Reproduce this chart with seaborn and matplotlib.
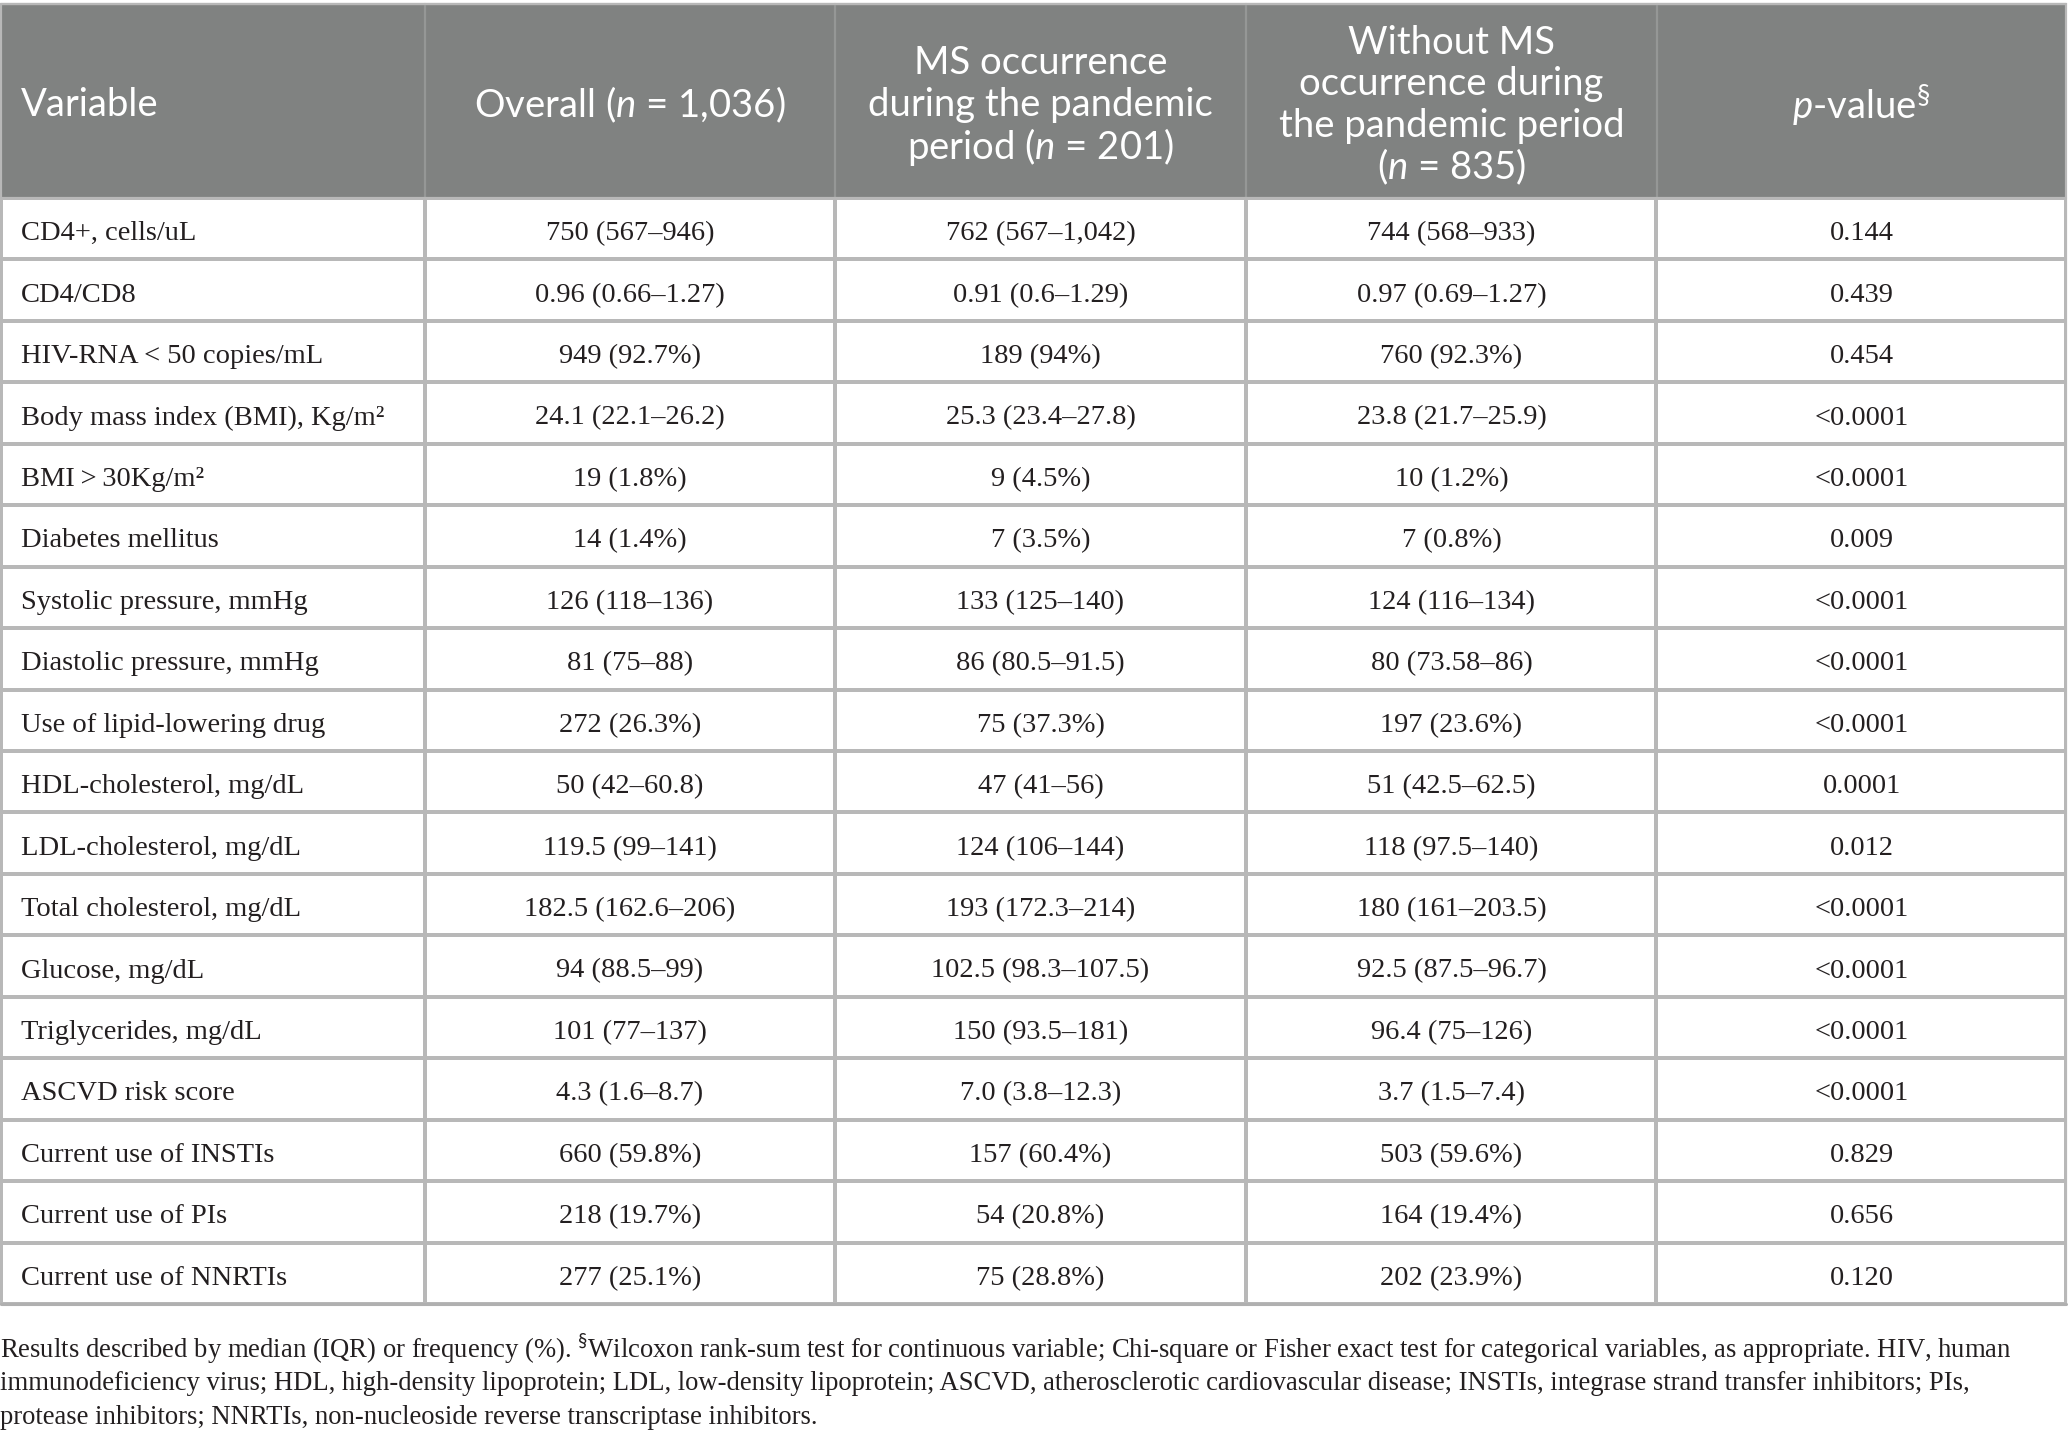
import matplotlib
matplotlib.use("Agg")
import matplotlib.pyplot as plt
from matplotlib.colors import ListedColormap
from matplotlib.patches import Rectangle
import numpy as np
import seaborn as sns

# ---------------- data ----------------
header_variable = "Variable"
header_overall = ["Overall ($n$ = 1,036)"]
header_ms = ["MS occurrence", "during the pandemic", "period ($n$ = 201)"]
header_without = ["Without MS", "occurrence during", "the pandemic period", "($n$ = 835)"]
header_p = ["$p$-value$^{\\S}$"]

variables = [
    "CD4+, cells/uL", "CD4/CD8", "HIV-RNA < 50 copies/mL",
    "Body mass index (BMI), Kg/m\u00b2", "BMI\u2009>\u200930Kg/m\u00b2", "Diabetes mellitus",
    "Systolic pressure, mmHg", "Diastolic pressure, mmHg", "Use of lipid-lowering drug",
    "HDL-cholesterol, mg/dL", "LDL-cholesterol, mg/dL", "Total cholesterol, mg/dL",
    "Glucose, mg/dL", "Triglycerides, mg/dL", "ASCVD risk score",
    "Current use of INSTIs", "Current use of PIs", "Current use of NNRTIs",
]
overall = [
    "750 (567\u2013946)", "0.96 (0.66\u20131.27)", "949 (92.7%)", "24.1 (22.1\u201326.2)",
    "19 (1.8%)", "14 (1.4%)", "126 (118\u2013136)", "81 (75\u201388)", "272 (26.3%)",
    "50 (42\u201360.8)", "119.5 (99\u2013141)", "182.5 (162.6\u2013206)", "94 (88.5\u201399)",
    "101 (77\u2013137)", "4.3 (1.6\u20138.7)", "660 (59.8%)", "218 (19.7%)", "277 (25.1%)",
]
ms_occ = [
    "762 (567\u20131,042)", "0.91 (0.6\u20131.29)", "189 (94%)", "25.3 (23.4\u201327.8)",
    "9 (4.5%)", "7 (3.5%)", "133 (125\u2013140)", "86 (80.5\u201391.5)", "75 (37.3%)",
    "47 (41\u201356)", "124 (106\u2013144)", "193 (172.3\u2013214)", "102.5 (98.3\u2013107.5)",
    "150 (93.5\u2013181)", "7.0 (3.8\u201312.3)", "157 (60.4%)", "54 (20.8%)", "75 (28.8%)",
]
without_ms = [
    "744 (568\u2013933)", "0.97 (0.69\u20131.27)", "760 (92.3%)", "23.8 (21.7\u201325.9)",
    "10 (1.2%)", "7 (0.8%)", "124 (116\u2013134)", "80 (73.58\u201386)", "197 (23.6%)",
    "51 (42.5\u201362.5)", "118 (97.5\u2013140)", "180 (161\u2013203.5)", "92.5 (87.5\u201396.7)",
    "96.4 (75\u2013126)", "3.7 (1.5\u20137.4)", "503 (59.6%)", "164 (19.4%)", "202 (23.9%)",
]
p_values = [
    "0.144", "0.439", "0.454", "<0.0001", "<0.0001", "0.009", "<0.0001", "<0.0001",
    "<0.0001", "0.0001", "0.012", "<0.0001", "<0.0001", "<0.0001", "<0.0001",
    "0.829", "0.656", "0.120",
]
footnote = [
    "Results described by median (IQR) or frequency (%). $^{\\S}$Wilcoxon rank-sum test for continuous variable; "
    "Chi-square or Fisher exact test for categorical variables, as appropriate. HIV, human",
    "immunodeficiency virus; HDL, high-density lipoprotein; LDL, low-density lipoprotein; ASCVD, atherosclerotic "
    "cardiovascular disease; INSTIs, integrase strand transfer inhibitors; PIs,",
    "protease inhibitors; NNRTIs, non-nucleoside reverse transcriptase inhibitors.",
]

# ---------------- style ----------------
sns.set_theme(style="white")
plt.rcParams["font.family"] = ["Liberation Serif", "DejaVu Sans"]
plt.rcParams["mathtext.fontset"] = "custom"
plt.rcParams["mathtext.rm"] = "Lato"
plt.rcParams["mathtext.it"] = "Lato:italic"

W, H = 2068, 1430
HEAD_BG = "#808281"
GRID = "#b8b8b8"
TXT = "#231f20"
SERIF = ["Liberation Serif", "DejaVu Serif"]
SANS = ["Lato", "DejaVu Sans"]
BODY_FS = 20.5
HEAD_FS = 27.5
FOOT_FS = 19.2

col_edges = [1, 425, 835, 1246, 1657, 2066]
top, head_bot, body_bot = 4, 198, 1304
n_rows = len(variables)
lw_px = 2.2
lw = lw_px * 0.72

fig = plt.figure(figsize=(W / 100, H / 100), dpi=100)

def fig_rect(x0, y0, x1, y1):
    return [x0 / W, 1 - y1 / H, (x1 - x0) / W, (y1 - y0) / H]

white = ListedColormap(["white"])

# first column grid (text drawn separately, left aligned)
ax0 = fig.add_axes(fig_rect(col_edges[0], head_bot, col_edges[1], body_bot))
sns.heatmap(np.zeros((n_rows, 1)), ax=ax0, cmap=white, cbar=False,
            linewidths=lw, linecolor=GRID, xticklabels=False, yticklabels=False)

# value columns grid (text drawn on overlay)
ax1 = fig.add_axes(fig_rect(col_edges[1], head_bot, col_edges[5], body_bot))
sns.heatmap(np.zeros((n_rows, 4)), ax=ax1, cmap=white, cbar=False,
            linewidths=lw, linecolor=GRID, xticklabels=False, yticklabels=False)

# overlay axes in pixel coordinates
ax = fig.add_axes([0, 0, 1, 1])
ax.set_xlim(0, W)
ax.set_ylim(H, 0)
ax.axis("off")
ax.patch.set_alpha(0)

# header
ax.add_patch(Rectangle((col_edges[0], top), col_edges[5] - col_edges[0], head_bot - top,
                       facecolor=HEAD_BG, edgecolor="none", zorder=1))
ax.plot([col_edges[0], col_edges[5]], [top, top], color="#c4c4c4", lw=lw, zorder=2)
for xe in col_edges[1:-1]:
    ax.plot([xe, xe], [top, head_bot], color="#959796", lw=lw, zorder=2)
ax.plot([col_edges[0], col_edges[5]], [head_bot, head_bot], color=GRID, lw=lw, zorder=2)

# outer border of body
ax.add_patch(Rectangle((col_edges[0], top), col_edges[5] - col_edges[0], body_bot - top,
                       facecolor="none", edgecolor=GRID, lw=lw, zorder=3))
ax.plot([col_edges[0], col_edges[5]], [body_bot, body_bot], color="#b0b0b0", lw=lw * 1.4, zorder=3)

head_mid = (top + head_bot) / 2 + 4
line_gap = 41.5
ax.text(21, head_mid, header_variable, ha="left", va="center", color="white",
        fontsize=HEAD_FS, family=SANS, zorder=4)
for ci, lines in enumerate([header_overall, header_ms, header_without, header_p], start=1):
    xc = (col_edges[ci] + col_edges[ci + 1]) / 2
    n = len(lines)
    for li, t in enumerate(lines):
        y = head_mid + (li - (n - 1) / 2) * line_gap
        ax.text(xc, y, t, ha="center", va="center", color="white",
                fontsize=HEAD_FS, family=SANS, zorder=4)

row_h = (body_bot - head_bot) / n_rows
columns = [overall, ms_occ, without_ms, p_values]
for i, v in enumerate(variables):
    y = head_bot + (i + 0.5) * row_h + 5
    ax.text(21, y, v, ha="left", va="center", color=TXT,
            fontsize=BODY_FS, family=SERIF, zorder=4)
    for ci, col in enumerate(columns, start=1):
        xc = (col_edges[ci] + col_edges[ci + 1]) / 2
        ax.text(xc, y, col[i], ha="center", va="center", color=TXT,
                fontsize=BODY_FS, family=SERIF, zorder=4)

foot_y = [1349, 1383, 1417]
for y, t in zip(foot_y, footnote):
    ax.text(0, y, t, ha="left", va="center", color=TXT,
            fontsize=FOOT_FS, family=SERIF, zorder=4)

fig.savefig("out.png", dpi=100)
